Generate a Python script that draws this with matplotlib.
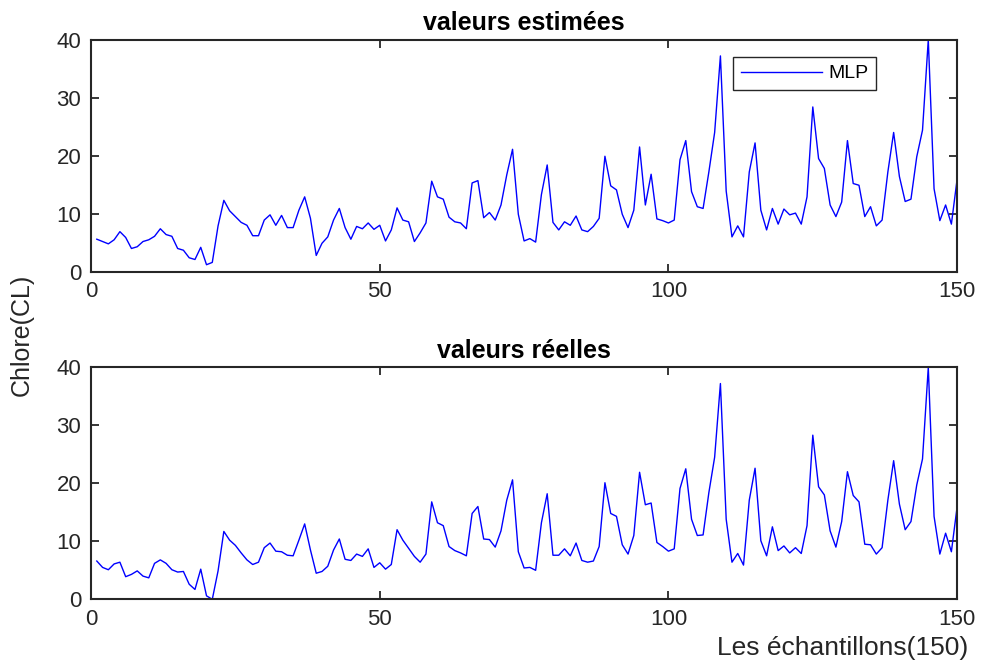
import numpy as np
import matplotlib
matplotlib.use("Agg")
import matplotlib.pyplot as plt

plt.rcParams["font.family"] = ["Liberation Sans", "DejaVu Sans"]

# sample index 1..150
samples = np.arange(1, 151)

# estimated values (MLP output)
estimated = [
    5.6, 5.2, 4.8, 5.5, 6.9, 5.9, 4.0, 4.3, 5.2, 5.5,
    6.1, 7.4, 6.4, 6.1, 4.0, 3.7, 2.4, 2.1, 4.2, 1.2,
    1.6, 7.9, 12.3, 10.5, 9.5, 8.5, 8.0, 6.2, 6.2, 8.9,
    9.8, 8.0, 9.7, 7.6, 7.6, 10.6, 12.9, 9.2, 2.8, 4.9,
    6.0, 8.9, 10.9, 7.6, 5.6, 7.8, 7.4, 8.4, 7.3, 8.0,
    5.3, 7.2, 11.0, 8.9, 8.6, 5.2, 6.7, 8.4, 15.6, 12.9,
    12.5, 9.4, 8.6, 8.4, 7.4, 15.3, 15.7, 9.3, 10.2, 8.9,
    11.5, 16.7, 21.1, 9.9, 5.3, 5.7, 5.1, 13.3, 18.4, 8.5,
    7.2, 8.6, 8.0, 9.6, 7.2, 6.9, 7.8, 9.2, 19.9, 14.8,
    14.1, 9.9, 7.6, 10.6, 21.5, 11.5, 16.8, 9.1, 8.8, 8.4,
    8.9, 19.3, 22.6, 13.8, 11.2, 10.9, 17.2, 24.0, 37.2, 13.9,
    6.0, 7.9, 6.0, 17.2, 22.2, 10.6, 7.2, 10.9, 8.2, 10.8,
    9.8, 10.1, 8.2, 12.9, 28.4, 19.5, 17.8, 11.5, 9.5, 12.0,
    22.6, 15.2, 14.9, 9.5, 11.2, 7.9, 8.9, 17.2, 24.0, 16.4,
    12.1, 12.5, 19.8, 24.4, 40.0, 14.3, 8.8, 11.5, 8.2, 16.0,
]

# measured values
real = [
    6.6, 5.5, 5.1, 6.1, 6.4, 3.9, 4.3, 4.9, 4.0, 3.7,
    6.2, 6.8, 6.2, 5.1, 4.7, 4.8, 2.6, 1.7, 5.2, 0.6,
    0.0, 4.9, 11.7, 10.2, 9.3, 8.0, 6.8, 6.0, 6.4, 8.9,
    9.7, 8.3, 8.2, 7.6, 7.5, 10.2, 13.0, 8.5, 4.5, 4.8,
    5.7, 8.5, 10.4, 6.9, 6.7, 7.8, 7.4, 8.7, 5.5, 6.3,
    5.2, 6.0, 12.0, 10.2, 8.8, 7.4, 6.4, 7.8, 16.8, 13.2,
    12.7, 9.1, 8.4, 8.0, 7.5, 14.8, 16.0, 10.4, 10.3, 9.0,
    11.8, 17.1, 20.6, 8.2, 5.4, 5.5, 5.0, 13.2, 18.2, 7.6,
    7.6, 8.7, 7.5, 9.7, 6.7, 6.4, 6.6, 9.1, 20.1, 14.8,
    14.3, 9.4, 7.8, 11.0, 21.9, 16.3, 16.6, 9.8, 9.1, 8.3,
    8.7, 19.1, 22.5, 13.8, 11.0, 11.1, 18.4, 24.5, 37.2, 13.8,
    6.4, 7.9, 5.9, 17.1, 22.6, 10.1, 7.5, 12.5, 8.4, 9.2,
    8.0, 8.9, 7.9, 12.7, 28.3, 19.4, 18.0, 11.8, 9.0, 13.4,
    22.0, 17.9, 16.8, 9.5, 9.4, 7.8, 8.9, 17.1, 23.9, 16.4,
    12.0, 13.4, 19.7, 24.2, 40.0, 14.3, 7.8, 11.4, 8.2, 16.0,
]

DARK = "#262626"

fig = plt.figure(figsize=(9.82, 6.70), dpi=100)
ax1 = fig.add_axes([0.0927, 0.5945, 0.882, 0.3463])
ax2 = fig.add_axes([0.0927, 0.1055, 0.882, 0.3463])

for ax, vals, title in [(ax1, estimated, "valeurs estimées"),
                        (ax2, real, "valeurs réelles")]:
    ax.plot(samples, vals, color="blue", linewidth=1.0, label="MLP")
    ax.set_xlim(0, 150)
    ax.set_ylim(0, 40)
    ax.set_xticks([0, 50, 100, 150])
    ax.set_yticks([0, 10, 20, 30, 40])
    ax.set_title(title, fontsize=18, fontweight="bold", color="black", pad=7)
    ax.tick_params(direction="in", length=6, width=1.3, top=True, right=True,
                   labelsize=16, colors=DARK, pad=7)
    for s in ax.spines.values():
        s.set_linewidth(1.5)
        s.set_color(DARK)

leg = ax1.legend(loc="upper left", bbox_to_anchor=(0.741, 0.925),
                 fontsize=14, handlelength=4.2, handletextpad=0.3,
                 borderpad=0.4, fancybox=False, framealpha=1,
                 edgecolor=DARK, borderaxespad=0)
leg.get_frame().set_linewidth(1.0)

fig.text(0.022, 0.5, "Chlore(CL)", rotation=90, ha="center", va="center",
         fontsize=18, color=DARK)
fig.text(0.986, 0.033, "Les échantillons(150)", ha="right", va="center",
         fontsize=19, color=DARK)

fig.savefig("out.png", dpi=100)
